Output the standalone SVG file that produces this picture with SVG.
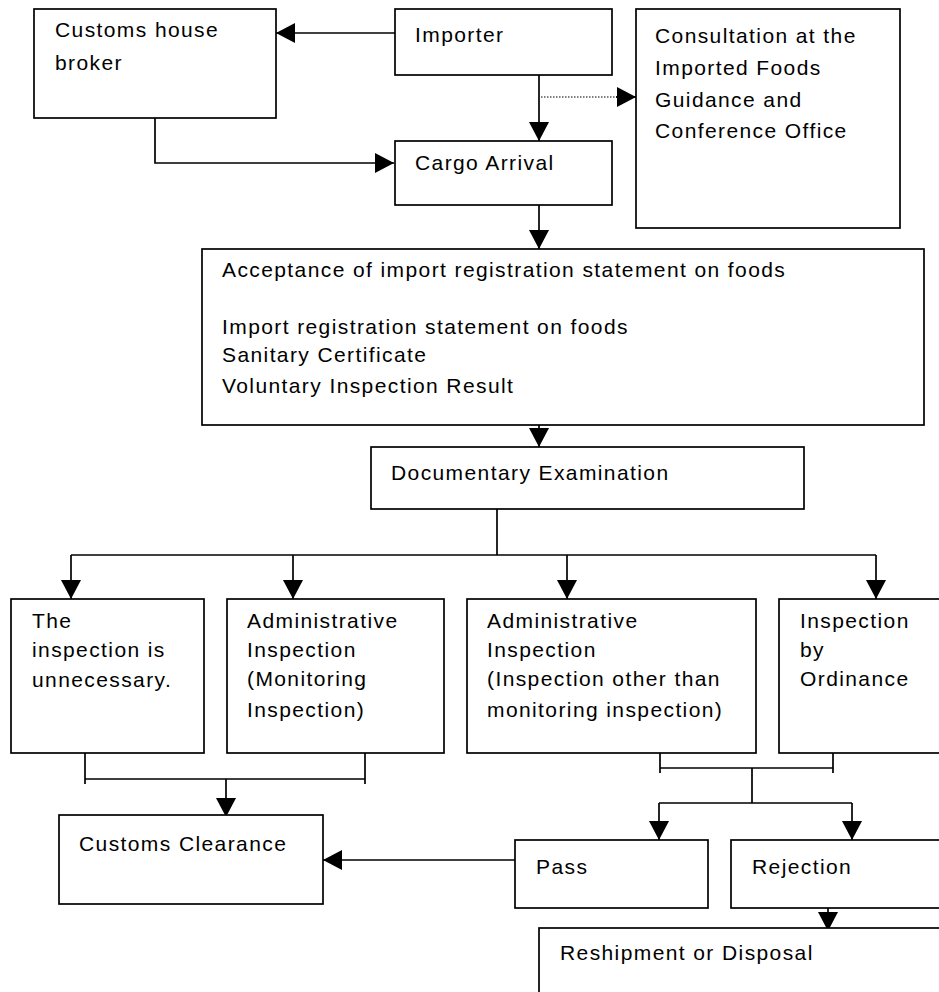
<svg xmlns="http://www.w3.org/2000/svg" width="939" height="992" viewBox="0 0 939 992">
<defs>
<style>
.box{fill:#fff;stroke:#000;stroke-width:1.7}
.t{font-family:"Liberation Sans",Arial,sans-serif;font-size:21px;letter-spacing:1.4px;fill:#000}
.ln{fill:none;stroke:#000;stroke-width:1.7}
.dot{fill:none;stroke:#000;stroke-width:1.2;stroke-dasharray:1.5 1.5}
</style>
<marker id="ah" viewBox="0 0 19 20" refX="19" refY="10" markerWidth="19" markerHeight="20" markerUnits="userSpaceOnUse" orient="auto">
<path d="M0,0 L19,10 L0,20 Z" fill="#000"/>
</marker>
</defs>
<rect width="939" height="992" fill="#fff"/>
<g id="connectors">
<path class="ln" d="M395,33 H276" marker-end="url(#ah)"/>
<path class="ln" d="M155,118 V163 H394" marker-end="url(#ah)"/>
<path class="ln" d="M539,75 V141" marker-end="url(#ah)"/>
<path class="dot" d="M541,97 H618"/>
<path class="ln" d="M616,97 H636" marker-end="url(#ah)"/>
<path class="ln" d="M539,205 V249" marker-end="url(#ah)"/>
<path class="ln" d="M539,425 V447" marker-end="url(#ah)"/>
<path class="ln" d="M497,509 V555"/>
<path class="ln" d="M71,555 H876"/>
<path class="ln" d="M71,555 V599" marker-end="url(#ah)"/>
<path class="ln" d="M293,555 V599" marker-end="url(#ah)"/>
<path class="ln" d="M567,555 V599" marker-end="url(#ah)"/>
<path class="ln" d="M876,555 V599" marker-end="url(#ah)"/>
<path class="ln" d="M85,753 V784 M365,753 V784 M85,779 H365"/>
<path class="ln" d="M226,779 V817" marker-end="url(#ah)"/>
<path class="ln" d="M660,753 V773 M833,753 V773 M660,768 H833"/>
<path class="ln" d="M752,768 V803 M659,803 H852"/>
<path class="ln" d="M659,803 V840" marker-end="url(#ah)"/>
<path class="ln" d="M852,803 V840" marker-end="url(#ah)"/>
<path class="ln" d="M515,860 H323" marker-end="url(#ah)"/>
<path class="ln" d="M828,908 V931" marker-end="url(#ah)"/>
</g>
<g id="broker">
<rect class="box" x="34" y="9" width="242" height="109"/>
<text class="t" x="55" y="37"><tspan x="55">Customs house</tspan><tspan x="55" dy="33">broker</tspan></text>
</g>
<g id="importer">
<rect class="box" x="395" y="9" width="217" height="66"/>
<text class="t" x="415" y="42">Importer</text>
</g>
<g id="consultation">
<rect class="box" x="636" y="9" width="264" height="219"/>
<text class="t" x="655" y="43"><tspan x="655">Consultation at the</tspan><tspan x="655" dy="32">Imported Foods</tspan><tspan x="655" dy="32">Guidance and</tspan><tspan x="655" dy="31">Conference Office</tspan></text>
</g>
<g id="cargo">
<rect class="box" x="395" y="141" width="217" height="64"/>
<text class="t" x="415" y="170">Cargo Arrival</text>
</g>
<g id="acceptance">
<rect class="box" x="202" y="249" width="722" height="176"/>
<text class="t" x="222" y="277">Acceptance of import registration statement on foods</text>
<text class="t" x="222" y="334">Import registration statement on foods</text>
<text class="t" x="222" y="362">Sanitary Certificate</text>
<text class="t" x="222" y="393">Voluntary Inspection Result</text>
</g>
<g id="documentary">
<rect class="box" x="371" y="447" width="433" height="62"/>
<text class="t" x="391" y="480">Documentary Examination</text>
</g>
<g id="unnecessary">
<rect class="box" x="11" y="599" width="193" height="154"/>
<text class="t" x="32" y="628"><tspan x="32">The</tspan><tspan x="32" dy="29">inspection is</tspan><tspan x="32" dy="30">unnecessary.</tspan></text>
</g>
<g id="monitoring">
<rect class="box" x="227" y="599" width="217" height="154"/>
<text class="t" x="247" y="628"><tspan x="247">Administrative</tspan><tspan x="247" dy="29">Inspection</tspan><tspan x="247" dy="29">(Monitoring</tspan><tspan x="247" dy="31">Inspection)</tspan></text>
</g>
<g id="other">
<rect class="box" x="467" y="599" width="289" height="154"/>
<text class="t" x="487" y="628"><tspan x="487">Administrative</tspan><tspan x="487" dy="29">Inspection</tspan><tspan x="487" dy="29">(Inspection other than</tspan><tspan x="487" dy="31">monitoring inspection)</tspan></text>
</g>
<g id="ordinance">
<rect class="box" x="779" y="599" width="180" height="154"/>
<text class="t" x="800" y="628"><tspan x="800">Inspection</tspan><tspan x="800" dy="29">by</tspan><tspan x="800" dy="29">Ordinance</tspan></text>
</g>
<g id="clearance">
<rect class="box" x="59" y="815" width="264" height="89"/>
<text class="t" x="79" y="851">Customs Clearance</text>
</g>
<g id="pass">
<rect class="box" x="515" y="840" width="193" height="68"/>
<text class="t" x="536" y="874">Pass</text>
</g>
<g id="rejection">
<rect class="box" x="731" y="840" width="230" height="68"/>
<text class="t" x="752" y="874">Rejection</text>
</g>
<g id="reshipment">
<rect class="box" x="539" y="928" width="420" height="80"/>
<text class="t" x="560" y="960">Reshipment or Disposal</text>
</g>
</svg>
